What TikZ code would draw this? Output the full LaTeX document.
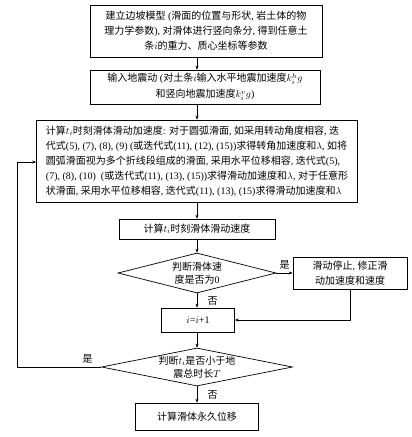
\documentclass[tikz,border=0pt]{standalone}
\usepackage{fontspec}
\usepackage{tikz}
\usetikzlibrary{arrows.meta,shapes.geometric,positioning}

\setmainfont{Liberation Serif}
\newfontfamily\cjk{Noto Sans CJK SC}
% switch to the CJK font for Chinese characters
\XeTeXinterchartokenstate=1
\newXeTeXintercharclass\cjkclass
\count255="4E00
\loop
    \XeTeXcharclass\count255=\cjkclass
    \ifnum\count255<"9FFF \advance\count255 by 1 \repeat
\XeTeXcharclass"3001=\cjkclass
\XeTeXinterchartoks 0 \cjkclass={\cjk}
\XeTeXinterchartoks 4095 \cjkclass={\cjk}
\XeTeXinterchartoks \cjkclass 0={\rmfamily}
\XeTeXinterchartoks \cjkclass 4095={\rmfamily}

\begin{document}
\begin{tikzpicture}[x=1pt,y=-1pt,
        every node/.style={font=\fontsize{10}{15}\selectfont},
        stepbox/.style={draw, line width=0.7pt, inner sep=0pt, align=center},
        decision/.style={draw, diamond, line width=0.7pt, inner sep=0pt},
        flow/.style={-{Stealth[length=4pt,width=3pt]}, line width=0.5pt}]
            \path[use as bounding box] (0,0) rectangle (412,437);

            \node[stepbox, minimum width=232pt, minimum height=52pt] (model) at (206,31)
                {建立边坡模型 (滑面的位置与形状, 岩土体的物\\
                 理力学参数), 对滑体进行竖向条分, 得到任意土\\
                 条$i$的重力、质心坐标等参数};
            \node[stepbox, minimum width=230pt, minimum height=34pt,
                  font=\fontsize{10}{16}\selectfont] (quake) at (205,87)
                {输入地震动 (对土条$i$输入水平地震加速度$k^{h}_{i}g$\\
                 和竖向地震加速度$k^{v}_{i}g$)};
            \node[stepbox, align=left, minimum width=321pt, minimum height=82pt] (accel) at (197,161)
                {计算$t_i$时刻滑体滑动加速度: 对于圆弧滑面, 如采用转动角度相容, 迭\\
                 代式(5), (7), (8), (9) (或迭代式(11), (12), (15))求得转角加速度和$\lambda$, 如将\\
                 圆弧滑面视为多个折线段组成的滑面, 采用水平位移相容, 迭代式(5),\\
                 (7), (8), (10) \ (或迭代式(11), (13), (15))求得滑动加速度和$\lambda$, 对于任意形\\
                 状滑面, 采用水平位移相容, 迭代式(11), (13), (15)求得滑动加速度和$\lambda$};
            \node[stepbox, minimum width=156pt, minimum height=20pt] (speed) at (197,229)
                {计算$t_i$时刻滑体滑动速度};
            \node[decision, minimum width=158pt, minimum height=40pt,
                  label={[align=center, font=\fontsize{10}{13}\selectfont]center:判断滑体速\\度是否为0}] (zero) at (197,273) {};
            \node[stepbox, minimum width=114pt, minimum height=32pt] (stop) at (350,273)
                {滑动停止, 修正滑\\动加速度和速度};
            \node[stepbox, minimum width=73pt, minimum height=24pt] (incr) at (198,320)
                {$i$=$i$+1};
            \node[decision, minimum width=191pt, minimum height=38pt,
                  label={[align=center, font=\fontsize{10}{13}\selectfont]center:判断$t_i$是否小于地\\震总时长$T$}] (time) at (197,367) {};
            \node[stepbox, minimum width=123pt, minimum height=27pt] (disp) at (197,416.5)
                {计算滑体永久位移};

            \coordinate (loop) at (17,162);

            \draw[flow] (model.south -| speed) -- (quake.north -| speed);
            \draw[flow] (quake.south -| speed) -- (accel.north -| speed);
            \draw[flow] (accel.south -| speed) -- (speed.north);
            \draw[flow] (speed.south) -- (zero.north);
            \draw[flow] (zero.east) -- node[above] (yes1) {是} (stop.west);
            \draw[flow] (zero.south) -- node[right=7pt] (no1) {否} (zero.south |- incr.north);
            \draw[flow] (stop.south) |- (incr.east);
            \draw[flow] (time.north |- incr.south) -- (time.north);
            \draw[flow] (time.south) -- node[right=7pt] (no2) {否} (disp.north);
            \draw[flow] (time.west) -| node[pos=0.08, above] (yes2) {是} (loop) -- (loop -| accel.west);
        \end{tikzpicture}
\end{document}
